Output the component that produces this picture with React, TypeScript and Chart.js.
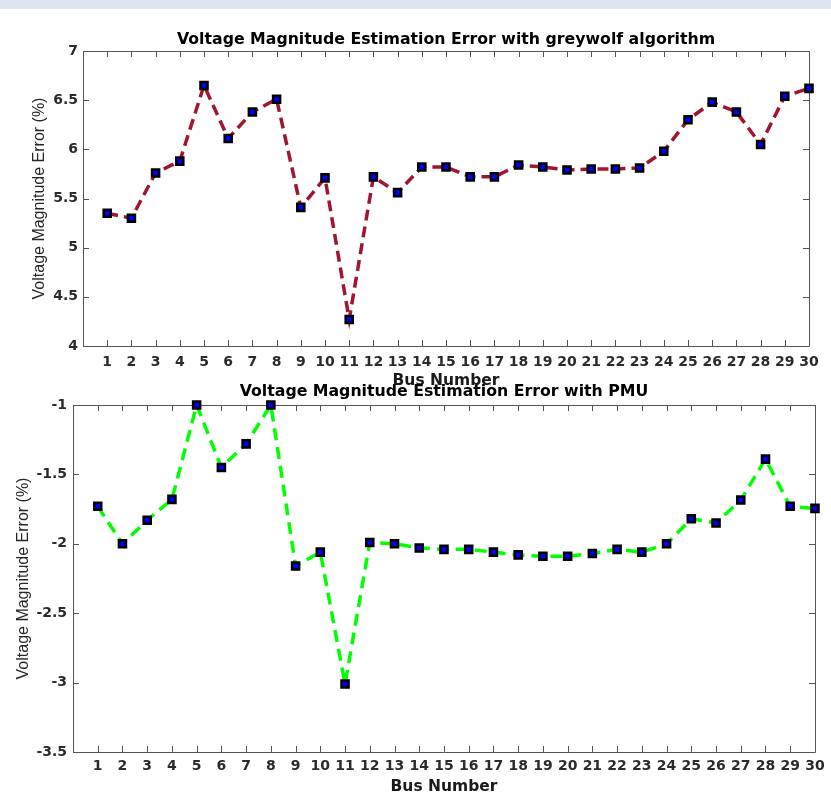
import React, { useEffect, useRef } from "react";
import { Chart, registerables } from "chart.js";

Chart.register(...registerables);

// ---- data ----
const buses = [1, 2, 3, 4, 5, 6, 7, 8, 9, 10, 11, 12, 13, 14, 15, 16, 17, 18, 19, 20, 21, 22, 23, 24, 25, 26, 27, 28, 29, 30];

const greywolfError = [
  5.35, 5.30, 5.76, 5.88, 6.65, 6.11, 6.38, 6.51, 5.41, 5.71,
  4.27, 5.72, 5.56, 5.82, 5.82, 5.72, 5.72, 5.84, 5.82, 5.79,
  5.80, 5.80, 5.81, 5.98, 6.30, 6.48, 6.38, 6.05, 6.54, 6.62,
];

const pmuError = [
  -1.73, -2.00, -1.83, -1.68, -1.00, -1.45, -1.28, -1.00, -2.16, -2.06,
  -3.01, -1.99, -2.00, -2.03, -2.04, -2.04, -2.06, -2.08, -2.09, -2.09,
  -2.07, -2.04, -2.06, -2.00, -1.82, -1.85, -1.685, -1.39, -1.73, -1.745,
];

const topYTicks = [4, 4.5, 5, 5.5, 6, 6.5, 7];
const bottomYTicks = [-3.5, -3, -2.5, -2, -1.5, -1];

const topTitle = "Voltage Magnitude Estimation Error with greywolf algorithm";
const bottomTitle = "Voltage Magnitude Estimation Error with PMU";
const xTitle = "Bus Number";
const yTitle = "Voltage Magnitude Error (%)";

const BOLD_FAMILY = "'DejaVu Sans', sans-serif";
const YTITLE_FAMILY = "'Liberation Sans', Arial, sans-serif";

const boxPlugin = {
  id: "matlabBox",
  beforeDatasetsDraw(chart: any) {
    const { ctx, chartArea } = chart;
    const { left, right, top, bottom } = chartArea;
    const xs = chart.scales.x;
    const ys = chart.scales.y;
    const L = 6;
    ctx.save();
    ctx.strokeStyle = "#555555";
    ctx.lineWidth = 1;
    ctx.beginPath();
    ctx.rect(Math.round(left) + 0.5, Math.round(top) + 0.5, Math.round(right - left), Math.round(bottom - top));
    ctx.stroke();
    ctx.beginPath();
    xs.ticks.forEach((t: any) => {
      const px = Math.round(xs.getPixelForValue(t.value)) + 0.5;
      ctx.moveTo(px, bottom);
      ctx.lineTo(px, bottom - L);
      ctx.moveTo(px, top);
      ctx.lineTo(px, top + L);
    });
    ys.ticks.forEach((t: any) => {
      const py = Math.round(ys.getPixelForValue(t.value)) + 0.5;
      ctx.moveTo(left, py);
      ctx.lineTo(left + L, py);
      ctx.moveTo(right, py);
      ctx.lineTo(right - L, py);
    });
    ctx.stroke();
    ctx.restore();
  },
};

type Spec = {
  title: string;
  values: number[];
  color: string;
  dash: number[];
  lineWidth: number;
  yMin: number;
  yMax: number;
  yTicks: number[];
  width: number;
  height: number;
  top: number;
  padRight: number;
  titlePadTop: number;
  titlePadBottom: number;
  yWidth: number;
  yTickPad: number;
  yTitlePad: number;
  xHeight: number;
  xTickPad: number;
  xTitlePadBottom: number;
};

function ErrorChart({ spec }: { spec: Spec }) {
  const ref = useRef<HTMLCanvasElement | null>(null);
  useEffect(() => {
    if (!ref.current) return;
    const p = spec;
    const tickFont = { family: BOLD_FAMILY, size: 14, weight: "bold" as const, lineHeight: 1.2 };
    const chart = new Chart(ref.current, {
      type: "line",
      data: {
        datasets: [
          {
            data: buses.map((b, i) => ({ x: b, y: p.values[i] })),
            borderColor: p.color,
            borderWidth: p.lineWidth,
            borderDash: p.dash,
            pointStyle: "rect",
            pointRadius: 5,
            pointBorderWidth: 2.5,
            pointBorderColor: "#000000",
            pointBackgroundColor: "#0000ff",
            clip: false as any,
            tension: 0,
            fill: false,
          },
        ],
      },
      options: {
        animation: false,
        responsive: false,
        events: [],
        layout: { padding: { left: 0, right: p.padRight, top: 0, bottom: 0 } },
        plugins: {
          legend: { display: false },
          tooltip: { enabled: false },
          title: {
            display: true,
            text: p.title,
            fullSize: false,
            color: "#000000",
            font: { family: BOLD_FAMILY, size: 15.75, weight: "bold", lineHeight: 1.2 },
            padding: { top: p.titlePadTop, bottom: p.titlePadBottom },
          },
        },
        scales: {
          x: {
            type: "linear",
            min: 0,
            max: 30,
            grid: { display: false, drawTicks: false },
            border: { display: false },
            afterBuildTicks: (s: any) => {
              s.ticks = buses.map((v) => ({ value: v }));
            },
            afterFit: (s: any) => {
              s.height = p.xHeight;
            },
            ticks: {
              autoSkip: false,
              maxRotation: 0,
              minRotation: 0,
              padding: p.xTickPad,
              color: "#2b2b2b",
              font: tickFont,
            },
            title: {
              display: true,
              text: xTitle,
              color: "#1a1a1a",
              font: { family: BOLD_FAMILY, size: 15.5, weight: "bold", lineHeight: 1.2 },
              padding: { top: 0, bottom: p.xTitlePadBottom },
            },
          },
          y: {
            type: "linear",
            min: p.yMin,
            max: p.yMax,
            grid: { display: false, drawTicks: false },
            border: { display: false },
            afterBuildTicks: (s: any) => {
              s.ticks = p.yTicks.map((v) => ({ value: v }));
            },
            afterFit: (s: any) => {
              s.width = p.yWidth;
            },
            ticks: {
              padding: p.yTickPad,
              color: "#2b2b2b",
              font: tickFont,
              callback: (v: any) => String(v),
            },
            title: {
              display: true,
              text: yTitle,
              color: "#262626",
              font: { family: YTITLE_FAMILY, size: 16, weight: "normal", lineHeight: 1.2 },
              padding: { top: p.yTitlePad, bottom: 0 },
            },
          },
        },
      },
      plugins: [boxPlugin],
    } as any);
    return () => chart.destroy();
  }, [spec]);

  return (
    <canvas
      ref={ref}
      width={spec.width}
      height={spec.height}
      style={{ position: "absolute", left: 0, top: spec.top, width: spec.width, height: spec.height }}
    />
  );
}

const topSpec: Spec = {
  title: topTitle,
  values: greywolfError,
  color: "#A2142F",
  dash: [11, 6],
  lineWidth: 3.5,
  yMin: 4,
  yMax: 7,
  yTicks: topYTicks,
  width: 831,
  height: 392,
  top: 0,
  padRight: 22,
  titlePadTop: 30.55,
  titlePadBottom: 1.55,
  yWidth: 83,
  yTickPad: 5,
  yTitlePad: 30.4,
  xHeight: 46,
  xTickPad: 7.6,
  xTitlePadBottom: 1.7,
};

const bottomSpec: Spec = {
  title: bottomTitle,
  values: pmuError,
  color: "#00FF00",
  dash: [12, 7],
  lineWidth: 3.5,
  yMin: -3.5,
  yMax: -1,
  yTicks: bottomYTicks,
  width: 831,
  height: 420,
  top: 380,
  padRight: 16,
  titlePadTop: 2.55,
  titlePadBottom: 3.55,
  yWidth: 73,
  yTickPad: 6,
  yTitlePad: 14.4,
  xHeight: 48,
  xTickPad: 6.3,
  xTitlePadBottom: 4,
};

export default function App() {
  return (
    <div
      style={{
        position: "fixed",
        left: 0,
        top: 0,
        width: 831,
        height: 794,
        overflow: "hidden",
        background: "#ffffff",
      }}
    >
      <div style={{ position: "absolute", left: 0, top: 0, width: 831, height: 9, background: "#dfe5ee" }} />
      <ErrorChart spec={topSpec} />
      <ErrorChart spec={bottomSpec} />
    </div>
  );
}
